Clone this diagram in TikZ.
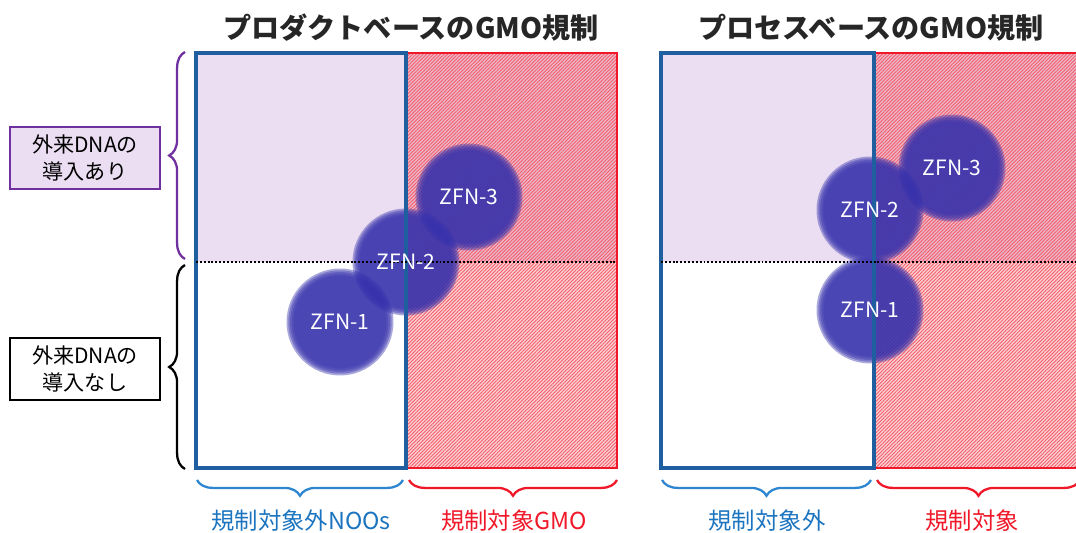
\documentclass[tikz,border=0pt]{standalone}
\usepackage{fontspec}
\setmainfont{Noto Sans CJK JP}
\usetikzlibrary{decorations.pathreplacing,patterns.meta}
\definecolor{purp}{HTML}{7030A0}
\definecolor{purpfill}{HTML}{EBDEF3}
\definecolor{bluedark}{HTML}{1F5F9F}
\definecolor{bluebr}{HTML}{2E86D0}
\definecolor{bluetxt}{HTML}{1B74C0}
\definecolor{zfn}{HTML}{3631AC}
\definecolor{hred}{HTML}{F01828}
\tikzset{
  titletext/.style={font=\fontsize{16}{19}\selectfont\bfseries, text=black!85},
  sidebox/.style={draw, line width=1.2pt, minimum width=3cm, minimum height=1.24cm, align=center, inner sep=0pt, font=\fontsize{12}{15}\selectfont},
  bottomtext/.style={font=\fontsize{13.3}{16}\selectfont},
  zfntext/.style={text=white, font=\fontsize{12}{14}\selectfont},
  bracebig/.style={decorate, decoration={brace, amplitude=9pt}, line width=1.3pt},
  hatch/.style={pattern={Lines[angle=45, distance=1.4pt, line width=0.5pt]}, pattern color=hred!70},
  midline/.style={line width=1.2pt, dash pattern=on 1.1pt off 1.1pt},
}
\newcommand\zfndisc[1]{%
  \begin{scope}[transparency group, opacity=0.95]
    \foreach \rr in {1.07,1.035,1.0,0.965,0.93}{\fill[zfn, opacity=0.44] (#1) circle[radius=\rr cm];}
  \end{scope}}
\begin{document}
\begin{tikzpicture}[x=0.02cm, y=-0.02cm]
\useasboundingbox (0,0) rectangle (1076,533);
% corner coordinates
\coordinate (LA) at (196,53); \coordinate (LB) at (406,53); \coordinate (LC) at (617,53);
\coordinate (LAm) at (196,262); \coordinate (LCm) at (617,262);
\coordinate (LAb) at (196,468); \coordinate (LBb) at (406,468); \coordinate (LCb) at (617,468);
\coordinate (RA) at (661,53); \coordinate (RB) at (874,53); \coordinate (RC) at (1086,53);
\coordinate (RAm) at (661,262); \coordinate (RCm) at (1086,262);
\coordinate (RAb) at (661,468); \coordinate (RBb) at (874,468); \coordinate (RCb) at (1086,468);

% titles
\node[titletext] (t1) at (411,28) {プロダクトベースのGMO規制};
\node[titletext] (t2) at (871,28) {プロセスベースのGMO規制};

% fills
\fill[purpfill] (LA) rectangle (LCm);
\fill[purpfill] (RA) rectangle (RCm);
\fill[hred, opacity=0.2] (LB) rectangle (LCb);
\fill[hred, opacity=0.2] (RB) rectangle (RCb);
\fill[hatch] (LB) rectangle (LCb);
\fill[hatch] (RB) rectangle (RCb);

% circles (labels)
\node[zfntext] (z1L) at (340,322) {ZFN-1};
\node[zfntext] (z2L) at (406,262) {ZFN-2};
\node[zfntext] (z3L) at (469,197) {ZFN-3};
\node[zfntext] (z2R) at (870,210) {ZFN-2};
\node[zfntext] (z3R) at (952,168) {ZFN-3};
\node[zfntext] (z1R) at (870,310) {ZFN-1};
\zfndisc{z1L.center}\zfndisc{z2L.center}\zfndisc{z3L.center}
\zfndisc{z2R.center}\zfndisc{z3R.center}\zfndisc{z1R.center}

% borders
\draw[hred, line width=1.5pt] (LB) rectangle (LCb);
\draw[hred, line width=1.5pt] (RB) rectangle (RCb);
\draw[bluedark, line width=1.8pt] (LA) rectangle (LBb);
\draw[bluedark, line width=1.8pt] (RA) rectangle (RBb);
\draw[midline] (LAm) -- (LCm);
\draw[midline] (RAm) -- (RCm);

% redraw labels on top
\node[zfntext] at (z1L) {ZFN-1};
\node[zfntext] at (z2L) {ZFN-2};
\node[zfntext] at (z3L) {ZFN-3};
\node[zfntext] at (z2R) {ZFN-2};
\node[zfntext] at (z3R) {ZFN-3};
\node[zfntext] at (z1R) {ZFN-1};

% side boxes and braces
\node[sidebox, draw=purp, fill=purpfill] (bx1) at (85,158) {外来DNAの\\導入あり};
\node[sidebox, draw=black] (bx2) at (85,369) {外来DNAの\\導入なし};
\coordinate (pb1) at (185,259); \coordinate (pb2) at (185,52);
\coordinate (kb1) at (185,469); \coordinate (kb2) at (185,265);
\draw[bracebig, purp] (pb1) -- (pb2);
\draw[bracebig, black] (kb1) -- (kb2);

% bottom braces
\coordinate (b1a) at (403,480); \coordinate (b1b) at (197,480);
\coordinate (b2a) at (617,480); \coordinate (b2b) at (409,480);
\coordinate (b3a) at (871,480); \coordinate (b3b) at (662,480);
\coordinate (b4a) at (1080,480); \coordinate (b4b) at (877,480);
\draw[bracebig, bluebr] (b1a) -- (b1b);
\draw[bracebig, hred] (b2a) -- (b2b);
\draw[bracebig, bluebr] (b3a) -- (b3b);
\draw[bracebig, hred] (b4a) -- (b4b);
\node[bottomtext, text=bluetxt] (l1) at (301,521) {規制対象外NOOs};
\node[bottomtext, text=hred] (l2) at (514,521) {規制対象GMO};
\node[bottomtext, text=bluetxt] (l3) at (767,521) {規制対象外};
\node[bottomtext, text=hred] (l4) at (972,521) {規制対象};
\end{tikzpicture}
\end{document}
